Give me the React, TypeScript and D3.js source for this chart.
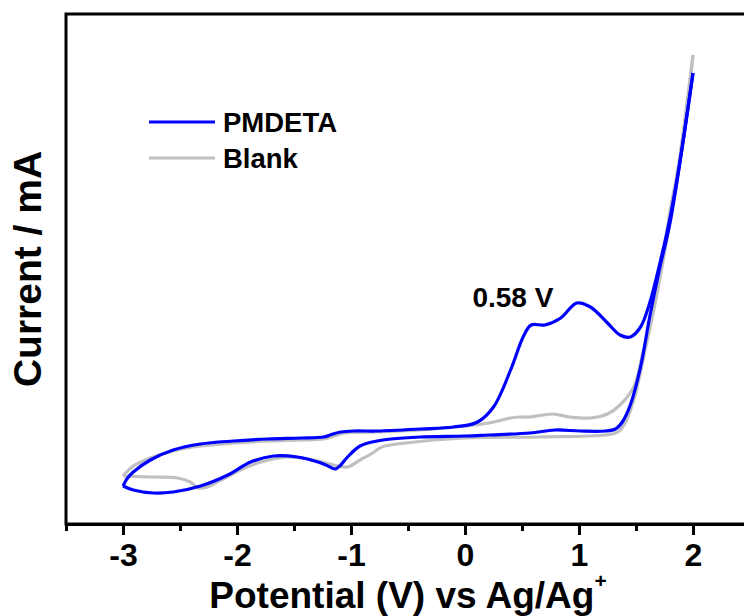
import { useEffect, useRef } from 'react';
import * as d3 from 'd3';

type Pt = [number, number];

// potential (V vs Ag/Ag+), current (mA, arbitrary offset)
const pmdetaAnodic: Pt[] = [
  [-3.0, -0.26], [-2.96, -0.18], [-2.91, -0.12], [-2.76, 0.0], [-2.56, 0.1], [-2.32, 0.16],
  [-2.03, 0.19], [-1.73, 0.21], [-1.44, 0.22], [-1.24, 0.23], [-1.16, 0.26], [-1.09, 0.28],
  [-0.98, 0.29], [-0.77, 0.29], [-0.39, 0.31], [-0.1, 0.33], [0.11, 0.38], [0.25, 0.53],
  [0.4, 0.9], [0.51, 1.23], [0.58, 1.35], [0.7, 1.35], [0.84, 1.42], [0.98, 1.57],
  [1.1, 1.53], [1.25, 1.37], [1.36, 1.25], [1.45, 1.23], [1.54, 1.33], [1.62, 1.57],
  [1.71, 1.97], [1.8, 2.43], [1.89, 3.02], [2.0, 3.87],
];
const pmdetaCathodic: Pt[] = [
  [2.0, 3.87], [1.8, 2.38], [1.71, 1.93], [1.62, 1.43], [1.54, 0.93], [1.45, 0.55],
  [1.38, 0.38], [1.32, 0.31], [1.23, 0.29], [1.01, 0.29], [0.79, 0.3], [0.57, 0.27],
  [0.2, 0.25], [0.0, 0.24], [-0.39, 0.23], [-0.65, 0.21], [-0.77, 0.19], [-0.92, 0.14],
  [-1.03, 0.03], [-1.09, -0.05], [-1.14, -0.09], [-1.22, -0.05], [-1.29, -0.02],
  [-1.47, 0.03], [-1.68, 0.04], [-1.88, -0.02], [-2.08, -0.15], [-2.32, -0.26],
  [-2.56, -0.32], [-2.73, -0.33], [-2.91, -0.3], [-3.0, -0.26],
];
const blankAnodic: Pt[] = [
  [-3.0, -0.16], [-2.91, -0.06], [-2.76, 0.02], [-2.56, 0.09], [-2.32, 0.14], [-2.03, 0.17],
  [-1.73, 0.19], [-1.44, 0.2], [-1.24, 0.21], [-1.15, 0.24], [-1.05, 0.27], [-0.77, 0.28],
  [-0.39, 0.3], [0.0, 0.34], [0.21, 0.37], [0.4, 0.42], [0.48, 0.43], [0.57, 0.43],
  [0.77, 0.46], [0.92, 0.43], [1.1, 0.42], [1.25, 0.46], [1.36, 0.55], [1.48, 0.73],
  [1.56, 1.07], [1.67, 1.6], [1.77, 2.2], [1.89, 3.08], [2.0, 4.05],
];
const blankCathodic: Pt[] = [
  [2.0, 4.05], [1.9, 3.1], [1.8, 2.5], [1.69, 1.7], [1.58, 1.1], [1.48, 0.6], [1.4, 0.36],
  [1.34, 0.28], [1.23, 0.25], [0.65, 0.23], [0.0, 0.22], [-0.52, 0.17], [-0.73, 0.13],
  [-0.81, 0.07], [-0.92, 0.0], [-1.03, -0.07], [-1.15, -0.05], [-1.33, 0.0], [-1.56, 0.03],
  [-1.79, -0.02], [-1.97, -0.1], [-2.14, -0.2], [-2.26, -0.27], [-2.34, -0.28],
  [-2.41, -0.22], [-2.52, -0.18], [-2.76, -0.17], [-3.0, -0.16],
];

const majorTicks = [-3, -2, -1, 0, 1, 2];
const minorTicks = [-3.5, -2.5, -1.5, -0.5, 0.5, 1.5, 2.5];
const seriesNames = ['PMDETA', 'Blank'];
const seriesColors = ['#0000ff', '#c0c0c0'];
const peakLabel = '0.58 V';
const peakLabelAt: Pt = [0.065, 1.53];

const font = "'Liberation Sans', Arial, sans-serif";

const App = () => {
  const ref = useRef<SVGSVGElement>(null);

  useEffect(() => {
    const width = 744;
    const height = 616;
    const left = 66;
    const top = 14;
    const right = 750;
    const bottom = 524;

    const svg = d3.select(ref.current);
    svg.selectAll('*').remove();
    svg.attr('width', width).attr('height', height);

    const x = d3.scaleLinear().domain([-3.5, 2.5]).range([left, right]);
    const y = d3.scaleLinear().domain([-0.64, 4.46]).range([bottom, top]);

    const line = d3.line<Pt>()
      .x(d => x(d[0]))
      .y(d => y(d[1]))
      .curve(d3.curveCatmullRom.alpha(0.5));

    // curves, blank underneath
    const curves = [
      { d: blankAnodic, c: seriesColors[1] },
      { d: blankCathodic, c: seriesColors[1] },
      { d: pmdetaAnodic, c: seriesColors[0] },
      { d: pmdetaCathodic, c: seriesColors[0] },
    ];
    svg.append('g')
      .attr('fill', 'none')
      .attr('stroke-width', 3.2)
      .attr('stroke-linejoin', 'round')
      .selectAll('path')
      .data(curves)
      .join('path')
      .attr('stroke', d => d.c)
      .attr('d', d => line(d.d));

    // frame
    svg.append('rect')
      .attr('x', left)
      .attr('y', top)
      .attr('width', right - left)
      .attr('height', bottom - top)
      .attr('fill', 'none')
      .attr('stroke', '#000')
      .attr('stroke-width', 3);

    // minor ticks
    svg.append('g')
      .attr('transform', `translate(0,${bottom})`)
      .call(d3.axisBottom(x).tickValues(minorTicks).tickSize(7).tickSizeOuter(0).tickFormat(() => ''))
      .call(g => g.select('.domain').remove())
      .call(g => g.selectAll('.tick line').attr('stroke-width', 3));

    // major ticks + labels
    svg.append('g')
      .attr('transform', `translate(0,${bottom})`)
      .call(d3.axisBottom(x).tickValues(majorTicks).tickSize(11).tickSizeOuter(0).tickPadding(8)
        .tickFormat(d => String(d)))
      .call(g => g.select('.domain').attr('stroke-width', 3))
      .call(g => g.selectAll('.tick line').attr('stroke-width', 3))
      .call(g => g.selectAll('.tick text')
        .attr('font-family', font)
        .attr('font-weight', 'bold')
        .attr('font-size', 32)
        .attr('fill', '#000'));

    // axis titles
    const xt = svg.append('text')
      .attr('x', (left + right) / 2)
      .attr('y', 608)
      .attr('text-anchor', 'middle')
      .attr('font-family', font)
      .attr('font-weight', 'bold')
      .attr('font-size', 37)
      .text('Potential (V) vs Ag/Ag');
    xt.append('tspan')
      .attr('font-size', 21)
      .attr('dy', -20)
      .text('+');

    svg.append('text')
      .attr('transform', `translate(41,${(top + bottom) / 2}) rotate(-90)`)
      .attr('text-anchor', 'middle')
      .attr('font-family', font)
      .attr('font-weight', 'bold')
      .attr('font-size', 39)
      .text('Current / mA');

    // legend
    const legend = svg.append('g');
    seriesNames.forEach((name, i) => {
      const ly = 122 + i * 36;
      legend.append('line')
        .attr('x1', 149).attr('x2', 215)
        .attr('y1', ly).attr('y2', ly)
        .attr('stroke', seriesColors[i])
        .attr('stroke-width', 3.2);
      legend.append('text')
        .attr('x', 223)
        .attr('y', ly + 9.5)
        .attr('font-family', font)
        .attr('font-weight', 'bold')
        .attr('font-size', 27.5)
        .text(name);
    });

    // peak annotation
    svg.append('text')
      .attr('x', x(peakLabelAt[0]))
      .attr('y', y(peakLabelAt[1]))
      .attr('font-family', font)
      .attr('font-weight', 'bold')
      .attr('font-size', 28)
      .text(peakLabel);
  }, []);

  return <svg ref={ref} style={{ position: 'absolute', left: 0, top: 0, background: '#fff' }} />;
};

export default App;
